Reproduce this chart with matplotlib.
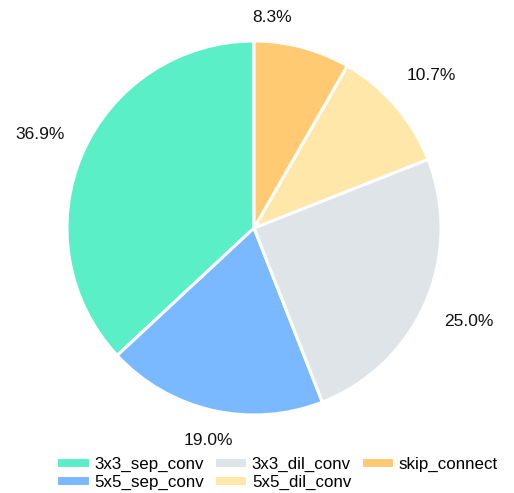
import matplotlib
matplotlib.use("Agg")
import matplotlib.pyplot as plt

plt.rcParams['font.family'] = ['Liberation Sans', 'DejaVu Sans']

labels = ['3x3_sep_conv', '5x5_sep_conv', '3x3_dil_conv', '5x5_dil_conv', 'skip_connect']
shares = [36.9, 19.0, 25.0, 10.7, 8.3]
colors = ['#5BEFC7', '#7AB9FF', '#DFE4E8', '#FFE7A9', '#FFCA71']

fig = plt.figure(figsize=(5.14, 4.93), dpi=100)
ax = fig.add_axes([0, 0, 1, 1])

wedges, texts, autotexts = ax.pie(
    shares, colors=colors, startangle=90, counterclock=True,
    autopct='%1.1f%%', pctdistance=1.25,
    wedgeprops=dict(edgecolor='white', linewidth=2.2),
    textprops=dict(fontsize=12.5, color='#111111'),
)

# nudge the two smaller/bottom labels so they sit clear of the legend and top edge
autotexts[1].set_position((-0.246, -1.134))
autotexts[4].set_position((0.096, 1.123))

ax.set_xlim(-1.358, 1.390)
ax.set_ylim(-1.417, 1.219)
ax.set_aspect('auto')
ax.axis('off')

fig.legend(wedges, labels, ncol=3, frameon=False, fontsize=12.2,
           loc='upper left', bbox_to_anchor=(48 / 514, 1 - 448 / 493),
           borderpad=0, handlelength=1.95, handleheight=0.6,
           handletextpad=0.29, columnspacing=0.57, labelspacing=0.17)

fig.savefig('out.png', dpi=100)
